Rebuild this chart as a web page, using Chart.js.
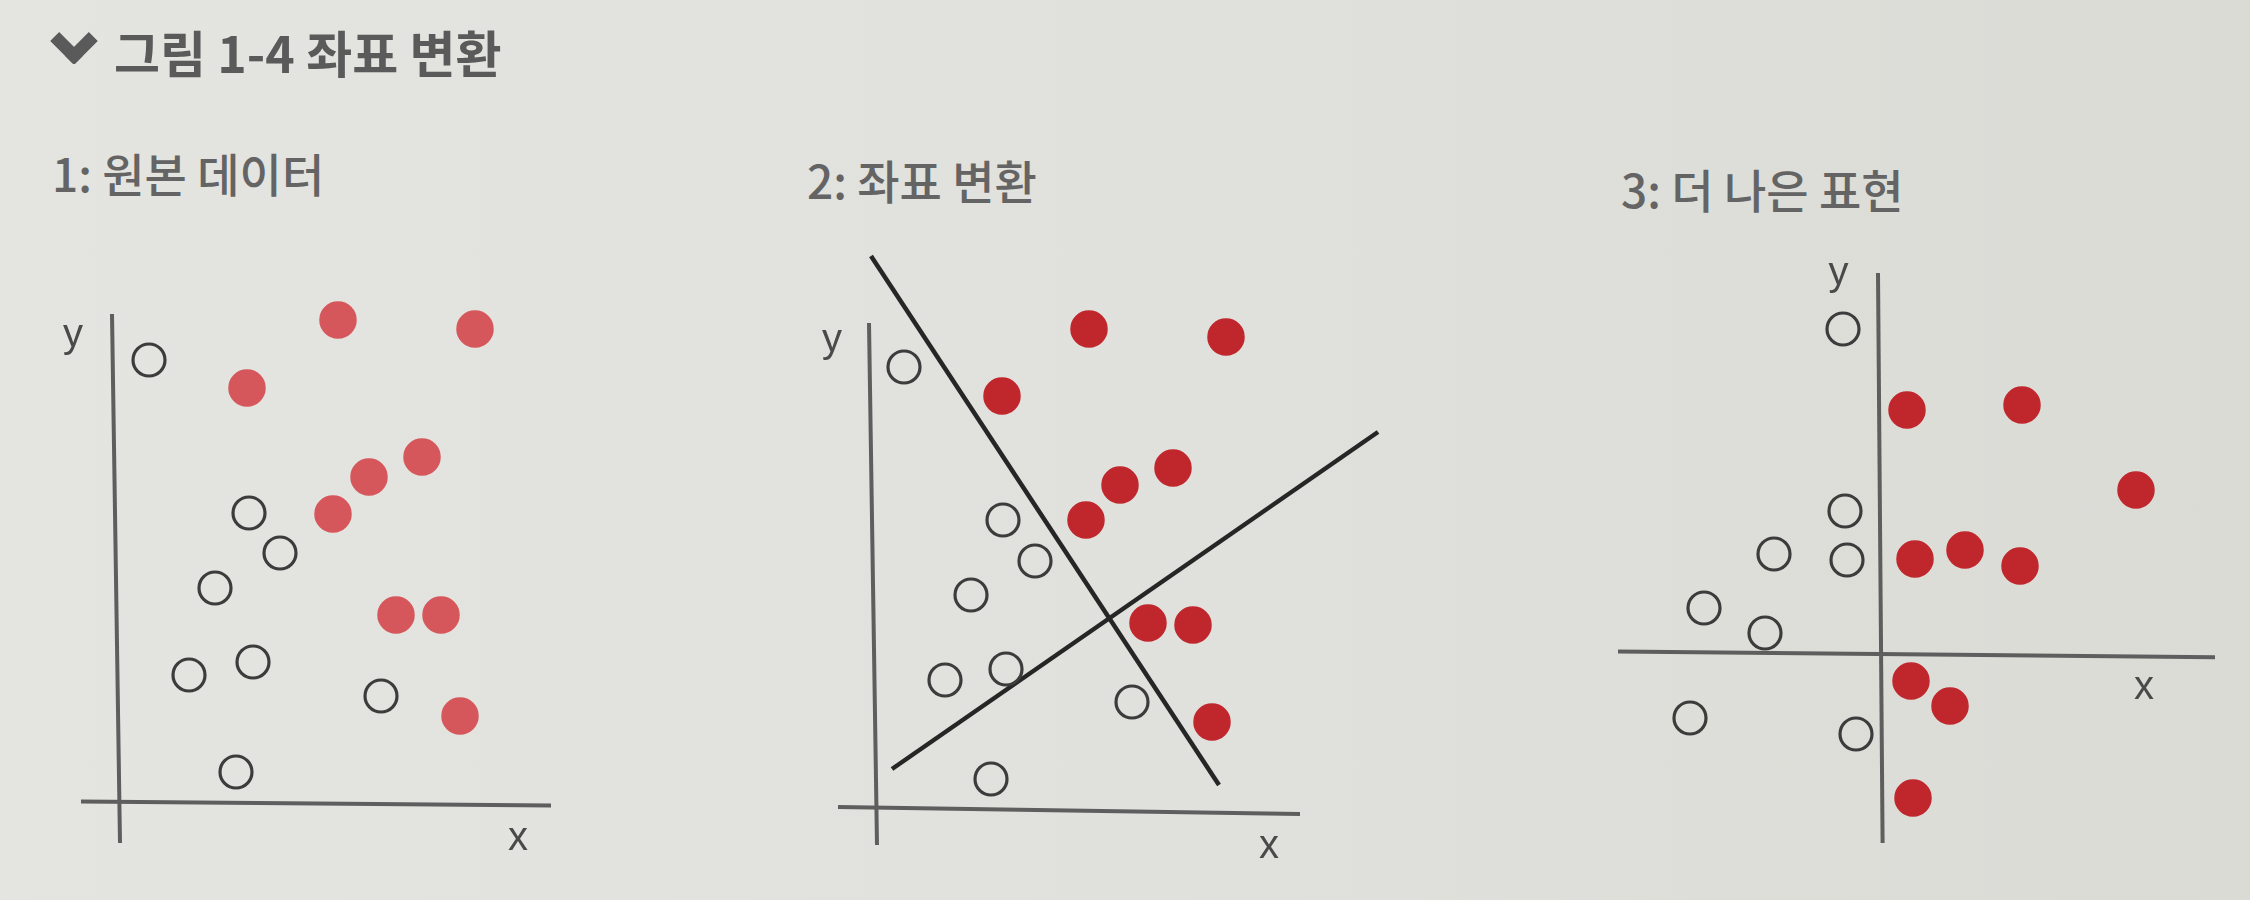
<!DOCTYPE html>
<html>
<head>
<meta charset="utf-8">
<script src="https://cdn.jsdelivr.net/npm/chart.js@4.4.1/dist/chart.umd.min.js"></script>
<style>
html,body{margin:0;padding:0;width:2250px;height:900px;overflow:hidden;
  background:linear-gradient(90deg,#e4e4e0 0%,#e0e0dc 55%,#dbdbd6 100%);
  font-family:"Noto Sans CJK KR","Noto Sans",sans-serif;}
.t{position:absolute;white-space:nowrap;line-height:1;}
#chev{position:absolute;left:57px;top:24px;width:21px;height:21px;
  border-right:13px solid #5a5a5a;border-bottom:13px solid #5a5a5a;transform:rotate(45deg);border-radius:0 0 3px 0;}
#title{left:114px;top:26px;font-size:50px;font-weight:700;color:#5a5a5a;}
.sub{font-size:46px;font-weight:500;color:#646464;}
canvas{position:absolute;}
</style>
</head>
<body>
<div id="chev"></div>
<div class="t" id="title">그림 1-4 좌표 변환</div>
<div class="t sub" id="s1" style="left:52px;top:149px;">1: 원본 데이터</div>
<div class="t sub" id="s2" style="left:807px;top:156px;">2: 좌표 변환</div>
<div class="t sub" id="s3" style="left:1621px;top:165px;">3: 더 나은 표현</div>
<canvas id="c1" width="560" height="640" style="left:37px;top:244px;"></canvas>
<canvas id="c2" width="640" height="680" style="left:789px;top:210px;"></canvas>
<canvas id="c3" width="660" height="660" style="left:1581px;top:235px;"></canvas>
<script>
// ---- Panel 1: 원본 데이터 ----
const p1Open   = [[3.2,44.4],[13.2,29.1],[16.3,25.1],[9.8,21.6],[13.6,14.2],[7.2,12.9],[26.4,10.8],[11.9,3.2]];
const p1Filled = [[22.1,48.4],[35.8,47.5],[13.0,41.6],[30.5,34.7],[25.2,32.7],[21.6,29.0],[27.9,18.9],[32.4,18.9],[34.3,8.8]];
const p1AxisX  = [[-3.6,0.25],[43.4,-0.15]];
const p1AxisY  = [[0.3,-3.9],[-0.5,49.0]];

// ---- Panel 2: 좌표 변환 ----
const p2Open   = [[3.5,44.3],[13.4,29.0],[16.6,24.9],[10.2,21.5],[13.7,14.1],[7.6,13.0],[26.3,10.8],[12.2,3.1]];
const p2Filled = [[22.0,48.1],[35.7,47.3],[13.3,41.4],[30.4,34.2],[25.1,32.5],[21.7,29.0],[27.9,18.7],[32.4,18.5],[34.3,8.8]];
const p2AxisX  = [[-3.1,0.3],[43.1,-0.4]];
const p2AxisY  = [[0.8,-3.5],[0,48.7]];
const p2LineA  = [[0.2,55.4],[35.0,2.5]];
const p2LineB  = [[2.3,4.1],[50.9,37.8]];

// ---- Panel 3: 더 나은 표현 ----
const p3Open   = [[-3.8,32.6],[-3.6,14.4],[-10.7,10.1],[-3.4,9.5],[-17.7,4.7],[-11.6,2.2],[-19.1,-6.3],[-2.5,-7.9]];
const p3Filled = [[2.6,24.5],[14.1,25.0],[25.5,16.5],[3.4,9.6],[8.4,10.5],[13.9,8.9],[3.0,-2.6],[6.9,-5.1],[3.2,-14.3]];
const p3AxisX  = [[-26.3,0.36],[33.4,-0.22]];
const p3AxisY  = [[0.16,-18.8],[-0.3,38.2]];

const axisLabels = ['x','y'];

const pts = a => a.map(p => ({x:p[0], y:p[1]}));

const labelPlugin = {
  id:'axisLabels',
  afterDatasetsDraw(chart, args, opts){
    const ctx = chart.ctx, xs = chart.scales.x, ys = chart.scales.y;
    ctx.save();
    ctx.font = opts.font; ctx.fillStyle = opts.color;
    ctx.textAlign = 'center'; ctx.textBaseline = 'alphabetic';
    (opts.items||[]).forEach(it => ctx.fillText(it.text, xs.getPixelForValue(it.x), ys.getPixelForValue(it.y)));
    ctx.restore();
  }
};

function lineDs(data, color, width){
  return {type:'line', data:pts(data), showLine:true, pointRadius:0, borderColor:color,
    borderWidth:width, fill:false, tension:0, order:2, borderCapStyle:'butt'};
}
function openDs(data){
  return {type:'scatter', data:pts(data), pointRadius:16, pointBorderWidth:3.2,
    pointBackgroundColor:'rgba(0,0,0,0)', pointBorderColor:'#3c3c3c', order:0};
}
function filledDs(data, color){
  return {type:'scatter', data:pts(data), pointRadius:18, pointBorderWidth:1.5,
    pointBackgroundColor:color, pointBorderColor:color, order:1};
}

function panel(id, xr, yr, datasets, items){
  new Chart(document.getElementById(id), {
    type:'scatter',
    data:{datasets},
    options:{
      responsive:false, animation:false, events:[],
      layout:{padding:0, autoPadding:false},
      scales:{
        x:{type:'linear', min:xr[0], max:xr[1], display:false},
        y:{type:'linear', min:yr[0], max:yr[1], display:false}
      },
      plugins:{legend:{display:false}, tooltip:{enabled:false},
        axisLabels:{font:'40px "Liberation Sans", Arial, sans-serif', color:'#4a4a4a', items}}
    },
    plugins:[labelPlugin]
  });
}

const axisColor = '#5e5e5e';
panel('c1', [-8,48], [-8,56], [
  lineDs(p1AxisX, axisColor, 4), lineDs(p1AxisY, axisColor, 4),
  filledDs(p1Filled, '#d6575b'), openDs(p1Open)
], [{text:axisLabels[0], x:40.1, y:-4.6}, {text:axisLabels[1], x:-4.4, y:45.7}]);

panel('c2', [-8,56], [-8,60], [
  lineDs(p2AxisX, axisColor, 4), lineDs(p2AxisY, axisColor, 4),
  lineDs(p2LineA, '#262626', 4.5), lineDs(p2LineB, '#262626', 4.5),
  filledDs(p2Filled, '#c0272d'), openDs(p2Open)
], [{text:axisLabels[0], x:40.0, y:-4.8}, {text:axisLabels[1], x:-3.7, y:45.8}]);

panel('c3', [-30,36], [-24,42], [
  lineDs(p3AxisX, axisColor, 4), lineDs(p3AxisY, axisColor, 4),
  filledDs(p3Filled, '#c0272d'), openDs(p3Open)
], [{text:axisLabels[0], x:26.3, y:-4.4}, {text:axisLabels[1], x:-4.25, y:37.0}]);
</script>
</body>
</html>
